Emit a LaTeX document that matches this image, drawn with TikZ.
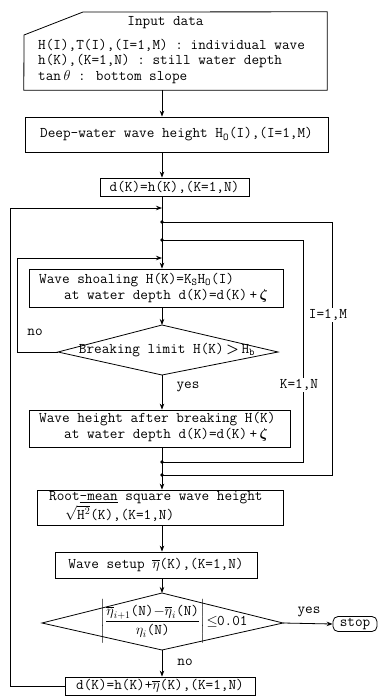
\documentclass[tikz,border=0pt]{standalone}
\usepackage{amsmath}
\usepackage{fontspec}
\usetikzlibrary{arrows.meta,calc}
\newcommand{\tsub}[1]{\textsubscript{#1}}
\newcommand{\tpar}{\text{\ttfamily(N)}}
\begin{document}
\begin{tikzpicture}[x=1pt,y=-1pt,
  font=\fontsize{14.8}{17}\selectfont\ttfamily,
  every node/.style={inner sep=1pt},
  ln/.style={line width=0.8pt},
  arr/.style={ln,-{Stealth[length=6pt,width=4.5pt]}},
  box/.style={draw,ln,inner sep=0pt},
  lbl/.style={fill=white,inner sep=1.5pt},
  dot/.style={circle,fill,inner sep=0pt,minimum size=3.6pt}]
\useasboundingbox (0,0) rectangle (381,697);
\coordinate (axis) at (162,0);
% input box
\node[minimum width=303pt,minimum height=78pt,inner sep=0pt] (inp) at (175.5,51) {};
\coordinate (ia) at (24,35);
\coordinate (ib) at (83,12);
\draw[ln] (inp.south west) -- (ia) -- (ib) -- (inp.north east) -- (inp.south east) -- cycle;
\node (it0) at (165.5,23) {Input data};
\node[anchor=mid west] (it1) at (37,47) {H(I),T(I),(I=1,M) : individual wave};
\node[anchor=mid west] (it2) at (37,62.5) {h(K),(K=1,N) : still water depth};
\node[anchor=mid west] (it3) at (37,78) {tan\,$\theta$ : bottom slope};
% deep water
\node[box,minimum width=303pt,minimum height=35pt] (deep) at (176.5,134.5) {Deep-water wave height H\tsub{O}(I),(I=1,M)};
% d(K)=h(K)
\node[box,minimum width=149pt,minimum height=18pt] (dk) at (174.5,187) {d(K)=h(K),(K=1,N)};
% shoaling
\node[box,minimum width=254pt,minimum height=38pt] (shoal) at (156,288) {};
\node[anchor=mid west] (st1) at (38,281) {Wave shoaling H(K)=K\tsub{S}H\tsub{O}(I)};
\node[anchor=mid west] (st2) at (63,297) {at water depth d(K)=d(K)\,+\,$\boldsymbol{\zeta}$};
% breaking limit diamond
\coordinate (bt) at (162,325);
\coordinate (bl) at (58,352);
\coordinate (br) at (278,352);
\coordinate (bb) at (162,375);
\draw[ln] (bt) -- (br) -- (bb) -- (bl) -- cycle;
\node (brk) at (167,350) {Breaking limit H(K)\,$\boldsymbol{>}$\,H\tsub{b}};
% after breaking
\node[box,minimum width=261pt,minimum height=37pt] (after) at (159.5,428.5) {};
\node[anchor=mid west] (at1) at (38,420) {Wave height after breaking H(K)};
\node[anchor=mid west] (at2) at (63,436) {at water depth d(K)=d(K)\,+\,$\boldsymbol{\zeta}$};
% rms
\node[box,minimum width=246pt,minimum height=35pt] (rms) at (160,507.5) {};
\node[anchor=mid west] (rt1) at (48,498.5) {Root\underline{-mean} square wave height};
\node[anchor=mid west] (rt2) at (64,517.5) {$\sqrt{\text{\ttfamily H}^2}$(K),(K=1,N)};
% setup
\node[box,minimum width=202pt,minimum height=26pt] (setup) at (156,565) {Wave setup $\overline{\eta}$(K),(K=1,N)};
% convergence diamond
\coordinate (dt) at (162,593);
\coordinate (dl) at (42,623);
\coordinate (dr) at (283,623);
\coordinate (db) at (162,650);
\draw[ln] (dt) -- (dr) -- (db) -- (dl) -- cycle;
\node[inner sep=0pt] (crit) at (174,622) {$\left|\vrule height 20pt depth 19pt width 0pt\dfrac{\overline{\eta}_{i+1}\tpar\mathord{-}\overline{\eta}_{i}\tpar}{\eta_{i}\tpar}\right|\!\mathrel{\le}\!\!\text{\ttfamily 0.01}$};
% stop
\node[draw,ln,rounded corners=5pt,minimum width=44pt,minimum height=15pt,inner sep=0pt] (stop) at (355,624) {stop};
% final
\node[box,minimum width=190pt,minimum height=18pt] (final) at (160,686) {d(K)=h(K)+$\overline{\eta}$(K),(K=1,N)};
% junctions
\coordinate (j1) at (162,208);
\coordinate (j4) at (162,258);
\node[dot] (j2) at (162,222) {};
\node[dot] (j3) at (162,240) {};
\node[dot] (j5) at (162,462) {};
\node[dot] (j6) at (162,475) {};
\coordinate (lo) at (10,208);
\coordinate (li) at (17,258);
\coordinate (kr) at (303,240);
\coordinate (ir) at (332,222);
% main flow
\draw[arr] (inp.south -| axis) -- (deep.north -| axis);
\draw[arr] (deep.south -| axis) -- (dk.north -| axis);
\draw[arr] (dk.south -| axis) -- (shoal.north -| axis);
\draw[arr] (shoal.south -| axis) -- (bt);
\draw[arr] (bb) -- (after.north -| bb);
\draw[ln] (after.south -| axis) -- (j6.center);
\draw[arr] (j6.center) -- (rms.north -| axis);
\draw[arr] (rms.south -| axis) -- (setup.north -| axis);
\draw[arr] (setup.south -| axis) -- (dt);
\draw[arr] (db) -- (final.north -| db);
\draw[arr] (dr) -- (stop.west);
% loops
\draw[arr] (final.west) -| (lo) -- (j1);
\draw[arr] (bl) -| (li) -- (j4);
\draw[ln] (j3.center) -- (kr) -- (kr |- j5) -- (j5.center);
\draw[ln] (j2.center) -- (ir) -- (ir |- j6) -- (j6.center);
% labels
\node[lbl] (kl) at (299,385) {K=1,N};
\node[lbl] (il) at (328,315) {I=1,M};
\node (no1) at (35,332) {no};
\node (yes1) at (188,387) {yes};
\node (no2) at (185,662) {no};
\node (yes2) at (309,612) {yes};
\end{tikzpicture}
\end{document}
